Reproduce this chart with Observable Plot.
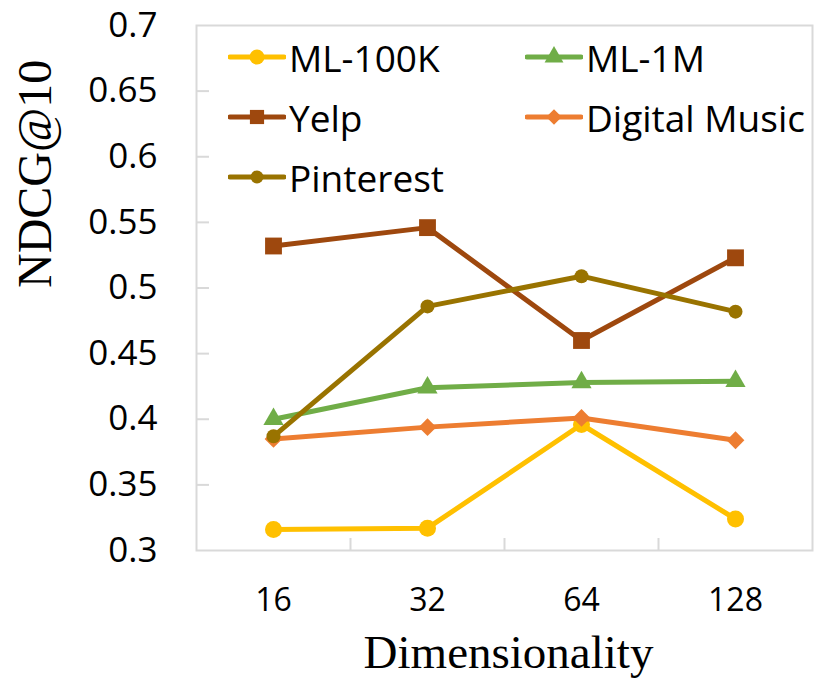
<!DOCTYPE html>
<html><head><meta charset="utf-8">
<script src="https://cdn.jsdelivr.net/npm/d3@7"></script>
<script src="https://cdn.jsdelivr.net/npm/@observablehq/plot@0.6"></script>
<style>
body{margin:0;background:#fff;}
#wrap{position:relative;width:830px;height:679px;}
#legend{position:absolute;left:0;top:0;width:830px;height:0;font-family:"Open Sans",sans-serif;font-size:37px;color:#000;}
.item{position:absolute;display:flex;align-items:center;white-space:nowrap;line-height:1;height:40px;}
.item span{margin-left:3px;}
</style></head><body>
<div id="wrap"><div id="chart"></div><div id="legend"></div></div>
<script>
// ---- data ----
const dims = ["16", "32", "64", "128"];
const seriesNames = ["ML-100K", "ML-1M", "Yelp", "Digital Music", "Pinterest"];
const ml100k = [0.316, 0.317, 0.396, 0.324];
const ml1m = [0.400, 0.424, 0.428, 0.429];
const yelp = [0.532, 0.546, 0.460, 0.523];
const digitalMusic = [0.385, 0.394, 0.401, 0.384];
const pinterest = [0.387, 0.486, 0.509, 0.482];
const yTicks = [0.3, 0.35, 0.4, 0.45, 0.5, 0.55, 0.6, 0.65, 0.7];

// ---- styles ----
const colors = ["#FFC000", "#70AD47", "#9E480E", "#ED7D31", "#997300"];
const symbols = ["circle", "triangle", "square", "diamond2", "circle"];
const radii = [8.5, 7.5, 9.5, 8, 7];
const legendRadii = [7.5, 7, 8, 7, 6.5];

const values = [ml100k, ml1m, yelp, digitalMusic, pinterest];
const rows = seriesNames.map((s, k) => values[k].map((v, i) => ({series: s, x: i + 1, y: v})));

const grey = "#d9d9d9";
const marks = [
  Plot.frame({stroke: grey, strokeWidth: 2}),
  Plot.tickY(yTicks.slice(1, -1), {y: d => d, stroke: grey, strokeWidth: 2, insetRight: 603}),
  Plot.tickX([1.5, 2.5, 3.5], {x: d => d, stroke: grey, strokeWidth: 2, insetTop: 513}),
  Plot.axisY({ticks: yTicks, tickSize: 0, tickPadding: 39, fontSize: 35, tickFormat: d => String(+d.toFixed(2)), label: null}),
  Plot.axisX({ticks: [1, 2, 3, 4], tickSize: 0, tickPadding: 38, fontSize: 32, tickFormat: d => dims[d - 1], label: null}),
  Plot.text(["Dimensionality"], {text: d => d, frameAnchor: "bottom", lineAnchor: "bottom", dy: 117, dx: 4, fontSize: 47, fontFamily: "Liberation Serif"}),
  Plot.text(["NDCG@10"], {text: d => d, frameAnchor: "left", lineAnchor: "bottom", rotate: -90, dx: -146, fontSize: 48, fontFamily: "Liberation Serif"})
];
rows.forEach((data, k) => {
  marks.push(Plot.line(data, {x: "x", y: "y", stroke: colors[k], strokeWidth: 5}));
  marks.push(Plot.dot(data, {x: "x", y: "y", fill: colors[k], symbol: symbols[k], r: radii[k], stroke: "none"}));
});

const chart = Plot.plot({
  width: 830, height: 679,
  marginTop: 25, marginRight: 18, marginBottom: 129, marginLeft: 196,
  style: {fontFamily: "Open Sans", background: "#fff", color: "#000"},
  x: {type: "linear", domain: [0.5, 4.5]},
  y: {type: "linear", domain: [0.3, 0.7]},
  marks
});
document.getElementById("chart").appendChild(chart);

// ---- legend ----
const legendPos = [[228, 37], [525, 37], [228, 97], [525, 97], [228, 157]];
const symMap = {circle: d3.symbolCircle, triangle: d3.symbolTriangle, square: d3.symbolSquare, diamond2: d3.symbolDiamond2};
const legend = d3.select("#legend");
seriesNames.forEach((name, k) => {
  const item = legend.append("div").attr("class", "item")
    .style("left", legendPos[k][0] + "px").style("top", legendPos[k][1] + "px");
  const svg = item.append("svg").attr("width", 58).attr("height", 24);
  svg.append("line").attr("x1", 2).attr("x2", 56).attr("y1", 12).attr("y2", 12)
    .attr("stroke", colors[k]).attr("stroke-width", 5).attr("stroke-linecap", "round");
  svg.append("path").attr("transform", "translate(29,12)")
    .attr("d", d3.symbol(symMap[symbols[k]], Math.PI * legendRadii[k] ** 2)())
    .attr("fill", colors[k]);
  item.append("span").text(name);
});
</script>
</body></html>
